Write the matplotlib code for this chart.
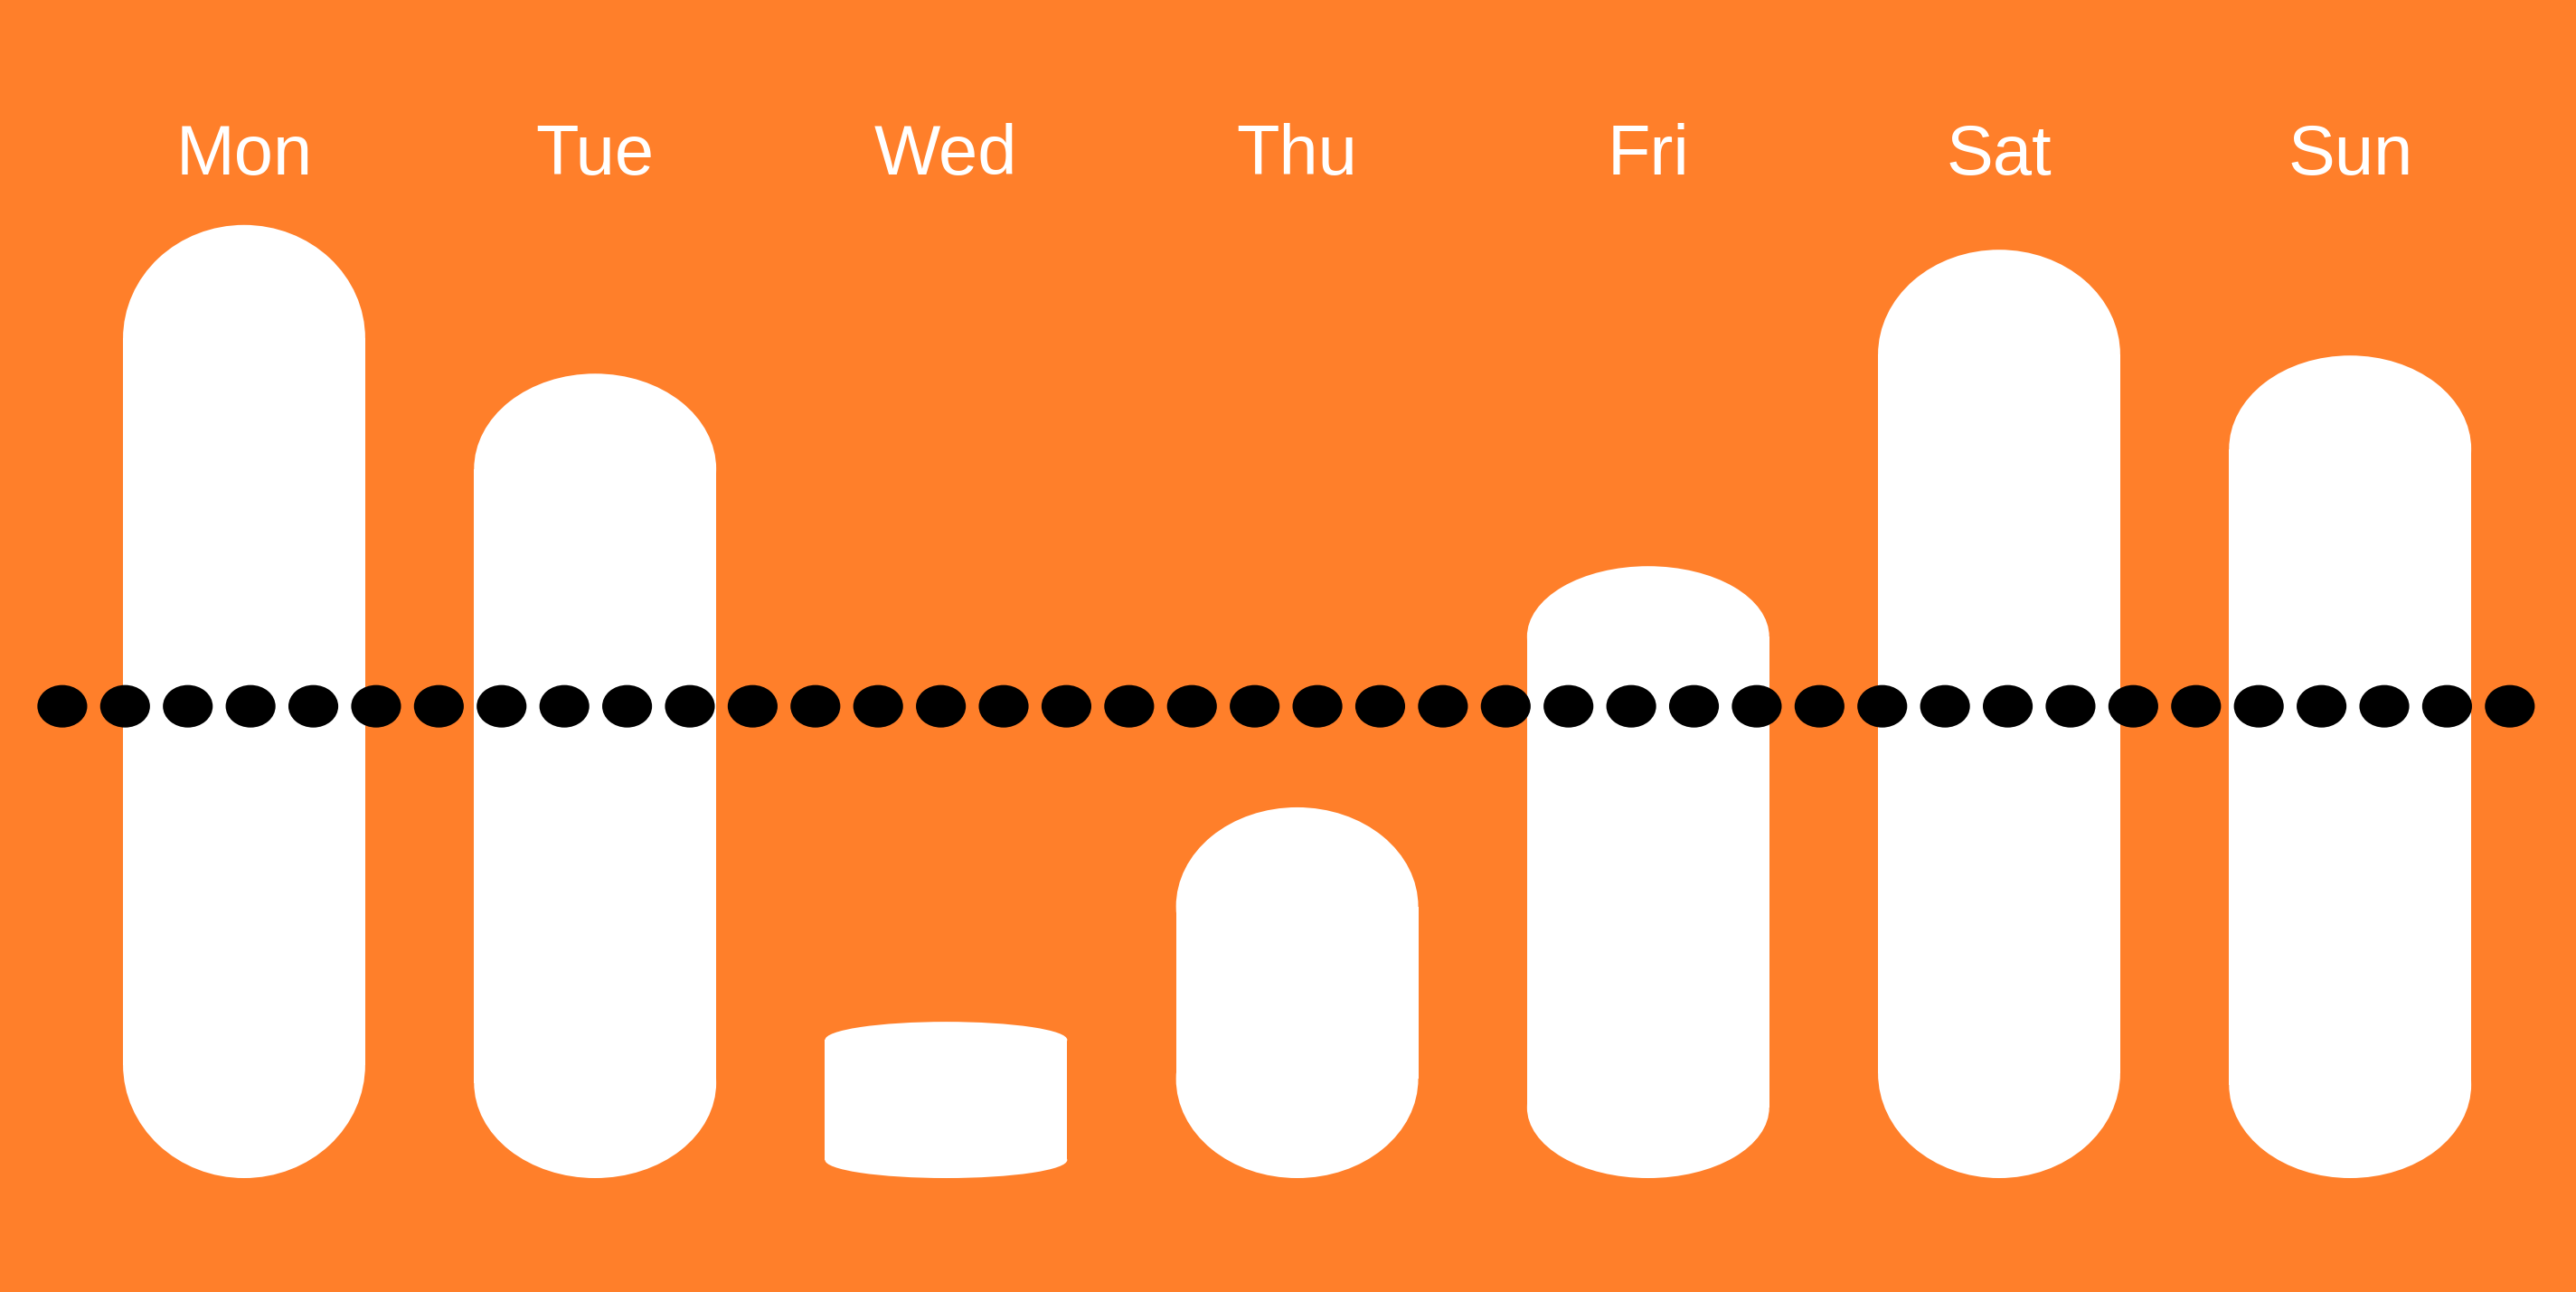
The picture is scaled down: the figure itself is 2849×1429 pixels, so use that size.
import numpy as np
import matplotlib.pyplot as plt
from matplotlib.patches import Ellipse, Rectangle

# --- data ---
days = ['Mon', 'Tue', 'Wed', 'Thu', 'Fri', 'Sat', 'Sun']
values = [100.0, 84.4, 16.4, 38.9, 64.2, 97.4, 86.3]
# height of the rounded end caps (same units as values)
cap_size = [11.9, 10.0, 1.9, 10.4, 7.4, 11.0, 9.8]
target = 49.5
n_dots = 40

# --- style ---
bg = '#FF7F2A'
bar_w = 0.69
dot_w, dot_h = 0.142, 4.46

fig = plt.figure(figsize=(28.49, 14.29), dpi=100)
fig.patch.set_facecolor(bg)
ax = fig.add_axes([0, 0, 1, 1])
ax.set_facecolor(bg)
ax.axis('off')
ax.set_xlim(-0.6955, 6.6435)
ax.set_ylim(-11.95, 123.6)

# capsule bars
for i, (v, c) in enumerate(zip(values, cap_size)):
    ax.add_patch(Rectangle((i - bar_w / 2, c), bar_w, v - 2 * c,
                           fc='white', ec='none', zorder=2))
    ax.add_patch(Ellipse((i, v - c), bar_w, 2 * c, fc='white', ec='none', zorder=2))
    ax.add_patch(Ellipse((i, c), bar_w, 2 * c, fc='white', ec='none', zorder=2))

# dotted target line
for x in np.linspace(-0.518, 6.455, n_dots):
    ax.add_patch(Ellipse((x, target), dot_w, dot_h, fc='black', ec='none', zorder=3))

# day labels on top
for i, d in enumerate(days):
    ax.text(i, 0.865, d, transform=ax.get_xaxis_transform(), ha='center',
            va='baseline', color='white', fontsize=56, family='Liberation Sans')

plt.savefig('out.png', dpi=100, facecolor=bg)
